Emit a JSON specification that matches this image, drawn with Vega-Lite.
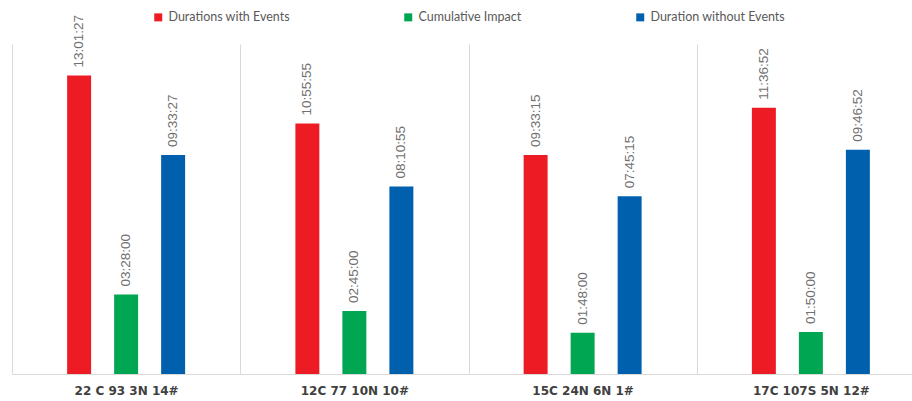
{
  "$schema": "https://vega.github.io/schema/vega-lite/v6.json",
  "width": 900,
  "height": 330,
  "autosize": {"type": "none"},
  "padding": {"left": 12, "top": 44, "right": 0, "bottom": 27},
  "background": "white",
  "config": {"view": {"stroke": null}},
  "data": {
    "values": [
      {"group": "22 C 93 3N 14#", "series": "Durations with Events", "ms": 46887000},
      {"group": "22 C 93 3N 14#", "series": "Cumulative Impact", "ms": 12480000},
      {"group": "22 C 93 3N 14#", "series": "Duration without Events", "ms": 34407000},
      {"group": "12C 77 10N 10#", "series": "Durations with Events", "ms": 39355000},
      {"group": "12C 77 10N 10#", "series": "Cumulative Impact", "ms": 9900000},
      {"group": "12C 77 10N 10#", "series": "Duration without Events", "ms": 29455000},
      {"group": "15C 24N 6N 1#", "series": "Durations with Events", "ms": 34395000},
      {"group": "15C 24N 6N 1#", "series": "Cumulative Impact", "ms": 6480000},
      {"group": "15C 24N 6N 1#", "series": "Duration without Events", "ms": 27915000},
      {"group": "17C 107S 5N 12#", "series": "Durations with Events", "ms": 41812000},
      {"group": "17C 107S 5N 12#", "series": "Cumulative Impact", "ms": 6600000},
      {"group": "17C 107S 5N 12#", "series": "Duration without Events", "ms": 35212000}
    ]
  },
  "encoding": {
    "x": {
      "field": "group",
      "type": "nominal",
      "sort": null,
      "scale": {"range": [0, 913], "paddingInner": 0, "paddingOuter": 0},
      "axis": {
        "title": null,
        "tickBand": "extent",
        "grid": true,
        "gridColor": "#d9d9d9",
        "gridWidth": 1,
        "domainColor": "#d9d9d9",
        "domainWidth": 1,
        "ticks": false,
        "labelAngle": 0,
        "labelFont": "DejaVu Sans",
        "labelFontWeight": "bold",
        "labelFontSize": 12,
        "labelColor": "#404040",
        "labelPadding": 11
      }
    },
    "xOffset": {
      "field": "series",
      "type": "nominal",
      "scale": {
        "domain": ["", "Durations with Events", "Cumulative Impact", "Duration without Events", " "],
        "paddingInner": 0.49,
        "paddingOuter": 0.173
      }
    },
    "y": {
      "field": "ms",
      "type": "quantitative",
      "scale": {"domain": [0, 51840000]},
      "axis": null
    }
  },
  "layer": [
    {
      "mark": {"type": "bar"},
      "encoding": {
        "color": {
          "field": "series",
          "type": "nominal",
          "scale": {
            "domain": ["Durations with Events", "Cumulative Impact", "Duration without Events"],
            "range": ["#ed1c24", "#00a651", "#0060ae"]
          },
          "legend": {
            "title": null,
            "orient": "none",
            "legendX": 140,
            "legendY": -33,
            "direction": "horizontal",
            "padding": 0,
            "symbolType": "square",
            "symbolSize": 64,
            "symbolStrokeWidth": 0,
            "labelFont": "Lato",
            "labelFontSize": 12.5,
            "labelColor": "#595959",
            "labelOffset": 4,
            "columnPadding": 112
          }
        }
      }
    },
    {
      "mark": {
        "type": "text",
        "angle": 270,
        "align": "left",
        "baseline": "middle",
        "dx": 8,
        "font": "Liberation Sans",
        "fontSize": 13.5,
        "fill": "#707070"
      },
      "encoding": {
        "text": {"field": "ms", "timeUnit": "utchoursminutesseconds", "type": "temporal"}
      }
    }
  ]
}
